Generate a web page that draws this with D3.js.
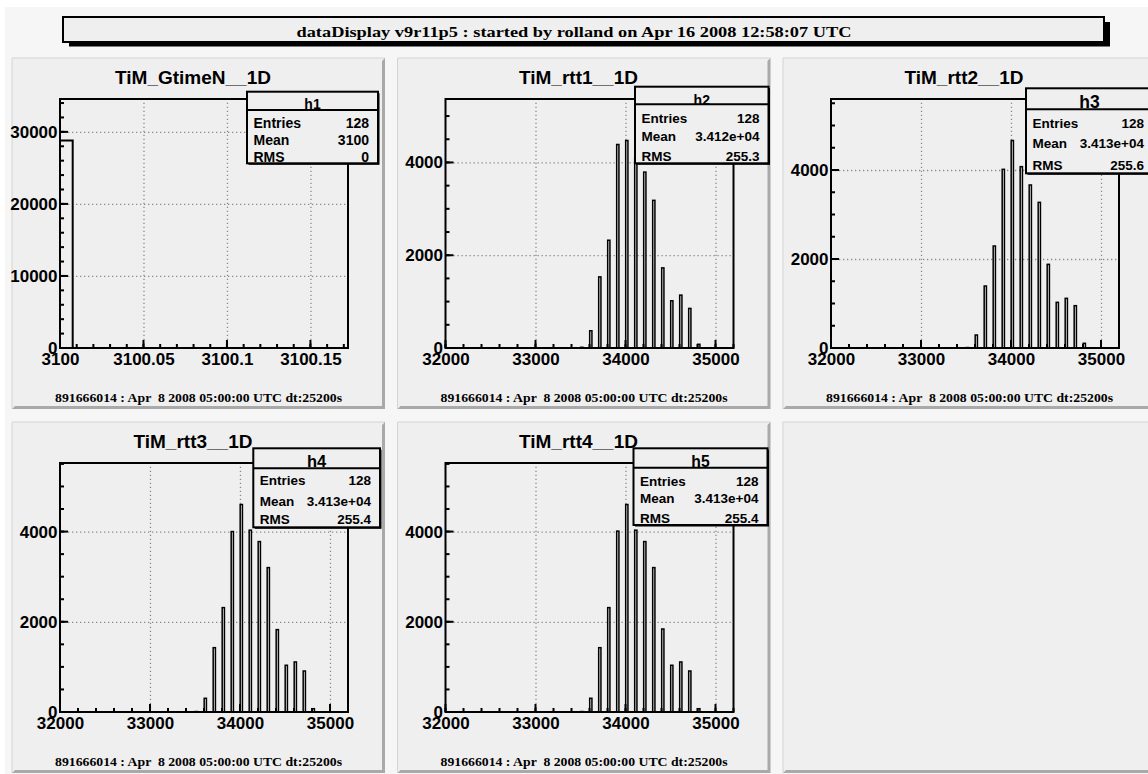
<!DOCTYPE html>
<html>
<head>
<meta charset="utf-8">
<script src="https://cdn.jsdelivr.net/npm/d3@7"></script>
<style>
  body { margin: 0; background: #fff; }
  svg { display: block; }
  text { font-family: "Liberation Sans", Arial, Helvetica, sans-serif; font-weight: bold; fill: #000; }
  text.serif { font-family: "Liberation Serif", "Times New Roman", serif; }
</style>
</head>
<body>
<svg id="canvas" width="1148" height="774"></svg>
<script>
// ---- data ----
var canvasTitle = "dataDisplay v9r11p5 : started by rolland on Apr 16 2008 12:58:07 UTC";
var footerText = "891666014 : Apr  8 2008 05:00:00 UTC dt:25200s";

var panelTitles = ["TiM_GtimeN__1D", "TiM_rtt1__1D", "TiM_rtt2__1D", "TiM_rtt3__1D", "TiM_rtt4__1D"];
var statNames   = ["h1", "h2", "h3", "h4", "h5"];
var statEntries = ["128", "128", "128", "128", "128"];
var statMeans   = ["3100", "3.412e+04", "3.413e+04", "3.413e+04", "3.413e+04"];
var statRms     = ["0", "255.3", "255.6", "255.4", "255.4"];

// GtimeN: a single narrow bin at 3100
var gtimeEdges  = [3100, 3100.0076];
var gtimeCounts = [28800];

// rtt histograms: 32 bins of 100 starting at 32000
var rttBinStart = 32000, rttBinWidth = 100;
var rtt1Counts = [0,0,0,0,0,0,0,0,0,0,0,0,0,0,0, 15,372,1533,2323,4387,4473,4100,3792,3183,1727,1018,1140,853,80, 0,0,0];
var rtt2Counts = [0,0,0,0,0,0,0,0,0,0,0,0,0,0,0, 10,292,1393,2292,4015,4663,4075,3663,3273,1880,1026,1116,951,105, 0,0,0];
var rtt3Counts = [0,0,0,0,0,0,0,0,0,0,0,0,0,0,0, 10,304,1426,2314,4000,4600,4031,3778,3201,1826,1036,1109,909,73, 0,0,0];
var rtt4Counts = [0,0,0,0,0,0,0,0,0,0,0,0,0,0,0, 10,304,1426,2314,4010,4600,4031,3778,3201,1840,1036,1109,909,73, 0,0,0];

// axis ranges and tick steps
var xRanges    = [[3100, 3100.1725], [32000, 35200], [32000, 35200], [32000, 35200], [32000, 35200]];
var xMajorStep = [0.05, 1000, 1000, 1000, 1000];
var xMinorStep = [0.01, 200, 200, 200, 200];
var yMajorStep = [10000, 2000, 2000, 2000, 2000];
var yMinorStep = [2000, 500, 500, 500, 500];

// ---- layout ----
var W = 1148, H = 774;
var colX = [12, 397.5, 783], rowY = [58, 422];
var panelW = 373, panelH = 351;
var frameL = 48, frameR = 336, frameT = 41, frameB = 290;
var panelFill = "#efefef";

// stats box geometry, relative to each panel
var boxes = [
  {x0: 235,   x1: 366,   y0: 33.7, y1: 105.3, hdr: 52,   hBase: 51,   hSize: 14,   rows: [69.7, 87, 103.7],  fs: 14},
  {x0: 237.5, x1: 371,   y0: 28.7, y1: 105.3, hdr: 46.3, hBase: 47,   hSize: 14,   rows: [65.3, 83, 103],    fs: 13.5},
  {x0: 243,   x1: 370,   y0: 30.3, y1: 115.3, hdr: 51.3, hBase: 50.3, hSize: 17.5, rows: [70.3, 90.3, 112],  fs: 13.5},
  {x0: 241.3, x1: 368,   y0: 26.3, y1: 105.3, hdr: 46.3, hBase: 44.7, hSize: 16.5, rows: [63, 83.7, 102],    fs: 13.5},
  {x0: 236,   x1: 370,   y0: 26.3, y1: 103,   hdr: 45.7, hBase: 44.7, hSize: 15.7, rows: [63.7, 81.3, 101.3], fs: 13.5}
];

function rttBins(counts) {
  return counts.map(function(c, i) {
    return {x0: rttBinStart + i * rttBinWidth, x1: rttBinStart + (i + 1) * rttBinWidth, n: c};
  });
}
var histos = [
  gtimeCounts.map(function(c, i) { return {x0: gtimeEdges[i], x1: gtimeEdges[i + 1], n: c}; }),
  rttBins(rtt1Counts), rttBins(rtt2Counts), rttBins(rtt3Counts), rttBins(rtt4Counts)
];
var drawStyle = ["line", "bar", "bar", "bar", "bar"];

function stepTicks(lo, hi, step) {
  var k0 = Math.ceil(lo / step - 1e-9), k1 = Math.floor(hi / step + 1e-9);
  return d3.range(k0, k1 + 1).map(function(k) { return k * step; });
}

var svg = d3.select("#canvas");
svg.append("rect").attr("x", 5).attr("y", 7).attr("width", W).attr("height", H).attr("fill", "#f6f6f6");

// title bar with shadow
svg.append("rect").attr("x", 69).attr("y", 22).attr("width", 1041).attr("height", 24.5).attr("fill", "#000");
svg.append("rect").attr("x", 63).attr("y", 17).attr("width", 1041).attr("height", 25)
  .attr("fill", panelFill).attr("stroke", "#000").attr("stroke-width", 2);
svg.append("text").attr("class", "serif").attr("x", 574).attr("y", 36.5)
  .attr("text-anchor", "middle").attr("font-size", 15)
  .attr("textLength", 555).attr("lengthAdjust", "spacingAndGlyphs")
  .text(canvasTitle);

function drawPad(px, py) {
  var g = svg.append("g").attr("transform", "translate(" + px + "," + py + ")");
  g.append("rect").attr("width", panelW).attr("height", panelH).attr("fill", panelFill);
  g.append("path").attr("d", "M0," + panelH + "V0H" + panelW)
    .attr("fill", "none").attr("stroke", "#d4d4d4").attr("stroke-width", 1);
  g.append("path")
    .attr("d", "M" + panelW + ",0L" + panelW + "," + panelH + "L0," + panelH +
               "L3," + (panelH - 3) + "L" + (panelW - 3) + "," + (panelH - 3) + "L" + (panelW - 3) + ",3Z")
    .attr("fill", "#a9a9a9");
  return g;
}

// inward tick marks as small rects, positions from the scales
function tickMarks(g, vals, pos, horizontal, len) {
  g.append("g").selectAll("rect").data(vals).join("rect")
    .attr("x", function(v) { return horizontal ? frameL : pos(v) - 1; })
    .attr("y", function(v) { return horizontal ? pos(v) - 1 : frameB - len; })
    .attr("width", horizontal ? len : 2)
    .attr("height", horizontal ? 2 : len)
    .attr("fill", "#000");
}

for (var i = 0; i < 5; i++) {
  var g = drawPad(colX[i % 3], rowY[Math.floor(i / 3)]);
  var bins = histos[i];
  var yTop = 1.2 * d3.max(bins, function(b) { return b.n; });

  var x = d3.scaleLinear().domain(xRanges[i]).range([frameL, frameR]);
  var y = d3.scaleLinear().domain([0, yTop]).range([frameB, frameT]);

  var xd = x.domain(), yd = y.domain();
  var xMaj = stepTicks(xd[0], xd[1], xMajorStep[i]);
  var xMin = stepTicks(xd[0], xd[1], xMinorStep[i]);
  var yMaj = stepTicks(yd[0], yd[1], yMajorStep[i]);
  var yMin = stepTicks(yd[0], yd[1], yMinorStep[i]);

  // dotted grid at inner major ticks
  var gx = g.append("g").attr("transform", "translate(0," + frameB + ")")
    .call(d3.axisBottom(x).tickValues(xMaj.filter(function(v) { return x(v) > frameL + 1 && x(v) < frameR - 1; }))
      .tickSize(-(frameB - frameT)).tickFormat(""));
  var gy = g.append("g").attr("transform", "translate(" + frameL + ",0)")
    .call(d3.axisLeft(y).tickValues(yMaj.filter(function(v) { return y(v) < frameB - 1 && y(v) > frameT + 1; }))
      .tickSize(-(frameR - frameL)).tickFormat(""));
  [gx, gy].forEach(function(s) {
    s.select(".domain").remove();
    s.selectAll("line").attr("stroke", "#8a8a8a").attr("stroke-width", 1.3).attr("stroke-dasharray", "1.3,2.7");
  });

  // histogram
  if (drawStyle[i] === "line") {
    var pts = [[bins[0].x0, 0]];
    bins.forEach(function(b) { pts.push([b.x0, b.n]); });
    pts.push([bins[bins.length - 1].x1, 0]);
    g.append("path")
      .attr("d", d3.line().curve(d3.curveStepAfter)
        .x(function(d) { return x(d[0]); }).y(function(d) { return y(d[1]); })(pts))
      .attr("fill", "none").attr("stroke", "#000").attr("stroke-width", 2);
  } else {
    var bOff = 0.02, bW = 0.25;
    g.selectAll("rect.bar").data(bins.filter(function(b) { return b.n > 0; })).join("rect")
      .attr("class", "bar")
      .attr("x", function(b) { return x(b.x0 + bOff * (b.x1 - b.x0)); })
      .attr("width", function(b) { return x(b.x0 + (bOff + bW) * (b.x1 - b.x0)) - x(b.x0 + bOff * (b.x1 - b.x0)); })
      .attr("y", function(b) { return y(b.n); })
      .attr("height", function(b) { return frameB - y(b.n); })
      .attr("fill", panelFill).attr("stroke", "#000").attr("stroke-width", 1.5);
  }

  // tick labels through d3 axes
  var xFmt = d3.format(".2~f"), yFmt = d3.format("d");
  var ax = g.append("g").attr("transform", "translate(0," + frameB + ")")
    .call(d3.axisBottom(x).tickValues(xMaj).tickSize(0).tickPadding(4.5).tickFormat(xFmt));
  var ay = g.append("g").attr("transform", "translate(" + frameL + ",0)")
    .call(d3.axisLeft(y).tickValues(yMaj).tickSize(0).tickPadding(2.5).tickFormat(yFmt));
  [ax, ay].forEach(function(s) {
    s.select(".domain").remove();
    s.selectAll("line").remove();
    s.attr("font-size", null).attr("font-family", null);
    s.selectAll("text").attr("font-size", 17);
  });

  // frame
  g.append("rect").attr("x", frameL).attr("y", frameT)
    .attr("width", frameR - frameL).attr("height", frameB - frameT)
    .attr("fill", "none").attr("stroke", "#000").attr("stroke-width", 2);

  // tick marks pointing into the frame
  tickMarks(g, xMin, x, false, 4);
  tickMarks(g, xMaj, x, false, 8);
  tickMarks(g, yMin, y, true, 4);
  tickMarks(g, yMaj, y, true, 8);

  // title and footer
  g.append("text").attr("x", 181).attr("y", 25.5).attr("text-anchor", "middle")
    .attr("font-size", 19).text(panelTitles[i]);
  g.append("text").attr("class", "serif").attr("x", panelW / 2).attr("y", 344)
    .attr("text-anchor", "middle").attr("font-size", 13.5)
    .attr("textLength", 287).attr("lengthAdjust", "spacingAndGlyphs")
    .style("white-space", "pre").text(footerText);

  // stats box
  var b = boxes[i];
  g.append("rect").attr("x", b.x0 + 1.5).attr("y", b.y0 + 1.5)
    .attr("width", b.x1 - b.x0).attr("height", b.y1 - b.y0).attr("fill", "#000");
  g.append("rect").attr("x", b.x0).attr("y", b.y0)
    .attr("width", b.x1 - b.x0).attr("height", b.y1 - b.y0).attr("fill", panelFill);
  g.append("text").attr("x", (b.x0 + b.x1) / 2).attr("y", b.hBase)
    .attr("text-anchor", "middle").attr("font-size", b.hSize).text(statNames[i]);
  g.append("line").attr("x1", b.x0).attr("x2", b.x1).attr("y1", b.hdr).attr("y2", b.hdr)
    .attr("stroke", "#000").attr("stroke-width", 2);
  var labels = ["Entries", "Mean", "RMS"];
  var vals = [statEntries[i], statMeans[i], statRms[i]];
  for (var r = 0; r < 3; r++) {
    g.append("text").attr("x", b.x0 + 6.5).attr("y", b.rows[r]).attr("font-size", b.fs).text(labels[r]);
    g.append("text").attr("x", b.x1 - 9).attr("y", b.rows[r]).attr("text-anchor", "end")
      .attr("font-size", b.fs).text(vals[r]);
  }
  g.append("rect").attr("x", b.x0).attr("y", b.y0)
    .attr("width", b.x1 - b.x0).attr("height", b.y1 - b.y0)
    .attr("fill", "none").attr("stroke", "#000").attr("stroke-width", 2);
}

// empty sixth pad
drawPad(colX[2], rowY[1]);
</script>
</body>
</html>
